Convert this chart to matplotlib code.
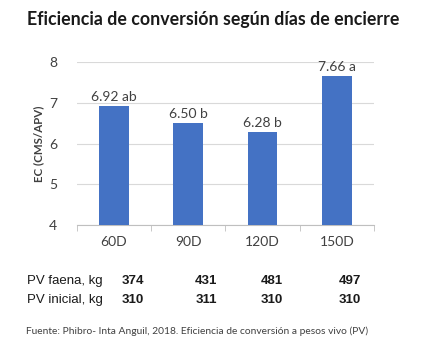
import matplotlib.pyplot as plt
import numpy as np

categories = ['60D', '90D', '120D', '150D']
ec_values = [6.92, 6.50, 6.28, 7.66]
letters = ['ab', 'b', 'b', 'a']
pv_faena = [374, 431, 481, 497]
pv_inicial = [310, 311, 310, 310]

plt.rcParams['font.family'] = ['Lato', 'DejaVu Sans']

fig = plt.figure(figsize=(4.27, 3.51), dpi=100)
ax = fig.add_axes([0.180, 0.359, 0.696, 0.464])

x = np.arange(len(categories))
ax.bar(x, ec_values, width=0.4, color='#4472C4', zorder=3)
for xi, v, l in zip(x, ec_values, letters):
    ax.text(xi, v + 0.07, f'{v:.2f} {l}', ha='center', va='bottom',
            fontsize=10, color='#404040')

ax.set_ylim(4, 8)
ax.set_xlim(-0.5, len(categories) - 0.5)
ax.set_yticks([4, 5, 6, 7, 8])
ax.yaxis.grid(True, color='#d9d9d9', linewidth=0.8, zorder=0)
ax.set_xticks(x)
ax.set_xticklabels(categories)
ax.set_xticks(np.arange(len(categories) + 1) - 0.5, minor=True)
ax.tick_params(axis='x', which='major', length=0, pad=8, labelsize=10, labelcolor='#404040')
ax.tick_params(axis='x', which='minor', length=4, color='#bfbfbf')
ax.tick_params(axis='y', length=0, pad=14, labelsize=10, labelcolor='#404040')
for s in ['top', 'right', 'left']:
    ax.spines[s].set_visible(False)
ax.spines['bottom'].set_color('#bfbfbf')
ax.set_ylabel('EC (CMS/APV)', fontsize=8.3, fontweight='bold', color='#404040', labelpad=4)

fig.text(0.5, 0.945, 'Eficiencia de conversión según días de encierre',
         ha='center', va='center', fontsize=12.8, fontweight='bold', color='#1a1a1a')

num_x = [133, 206, 272, 350]
rows = [('PV faena, kg', pv_faena, 281), ('PV inicial, kg', pv_inicial, 300)]
for label, vals, yy in rows:
    fig.text(27 / 427, 1 - yy / 351, label, ha='left', va='center',
             fontsize=9.5, family='Liberation Sans', color='#1a1a1a')
    for nx, v in zip(num_x, vals):
        fig.text(nx / 427, 1 - yy / 351, str(v), ha='center', va='center',
                 fontsize=9.5, fontweight='bold', family='Liberation Sans', color='#1a1a1a')

fig.text(26 / 427, 1 - 331 / 351,
         'Fuente: Phibro- Inta Anguil, 2018. Eficiencia de conversión a pesos vivo (PV)',
         ha='left', va='center', fontsize=7.4, color='#404040')

fig.savefig('out.png', dpi=100)
